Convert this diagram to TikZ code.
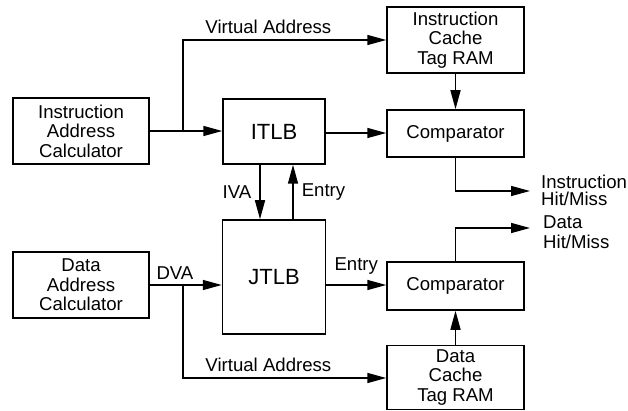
\documentclass[tikz,border=0pt]{standalone}
\usepackage{fontspec}
\setmainfont{Liberation Sans}
\usetikzlibrary{arrows.meta}
\begin{document}
\begin{tikzpicture}[x=1pt,y=-1pt,
  box/.style={draw,line width=1.5pt,align=center,inner sep=0pt,font=\fontsize{18.6}{19.5}\selectfont},
  big/.style={font=\fontsize{22}{23}\selectfont},
  lbl/.style={font=\fontsize{18.6}{19.5}\selectfont,inner sep=0pt},
  arr/.style={line width=1.5pt,-{Triangle[length=19pt,width=10pt]}},
  ln/.style={line width=1.5pt}]
\useasboundingbox (0,0) rectangle (628,411);
% boxes
\node[box,minimum width=136pt,minimum height=66pt] (iac) at (81,131) {Instruction\\Address\\Calculator};
\node[box,big,minimum width=102pt,minimum height=65pt] (itlb) at (274,131.5) {ITLB};
\node[box,minimum width=137pt,minimum height=66pt] (icache) at (455.5,40) {Instruction\\Cache\\Tag RAM};
\node[box,minimum width=137pt,minimum height=47pt] (icomp) at (455.5,133.5) {Comparator};
\node[box,big,minimum width=103pt,minimum height=114pt] (jtlb) at (274,277) {JTLB};
\node[box,minimum width=136pt,minimum height=66pt] (dac) at (81,285) {Data\\Address\\Calculator};
\node[box,minimum width=137pt,minimum height=48pt] (dcomp) at (455.5,286) {Comparator};
\node[box,minimum width=137pt,minimum height=64pt] (dcache) at (455.5,377.5) {Data\\Cache\\Tag RAM};
% coordinates
\coordinate (b1) at (183,131);
\coordinate (b2) at (183,285);
\coordinate (iout) at (530,191);
\coordinate (dout) at (530,228);
% instruction side
\draw[arr] (iac.east |- b1) -- (itlb.west |- b1);
\draw[arr] (b1) |- node[lbl,pos=0.71,above=6pt] {Virtual Address} (icache.west |- 0,40);
\draw[arr] (icache.south) -- (icomp.north);
\draw[arr] (itlb.east |- 0,133) -- (icomp.west |- 0,133);
\draw[arr] (icomp.south) |- (iout);
\node[lbl,anchor=west,align=left,font=\fontsize{18.6}{17}\selectfont] (ihm) at (541,190) {Instruction\\Hit/Miss};
% TLB links
\draw[arr] ([xshift=-14pt]itlb.south) -- node[lbl,left=8pt] {IVA} ([xshift=-14pt]jtlb.north);
\draw[arr] ([xshift=19pt]jtlb.north) -- node[lbl,right=8pt] {Entry} ([xshift=19pt]itlb.south);
% data side
\draw[arr] (dac.east |- b2) -- node[lbl,pos=0.35,above=5pt] {DVA} (jtlb.west |- b2);
\draw[arr] (b2) |- node[lbl,pos=0.71,above=6pt] {Virtual Address} (dcache.west |- 0,378);
\draw[arr] (jtlb.east |- 0,285) -- node[lbl,pos=0.5,above=10pt] {Entry} (dcomp.west |- 0,285);
\draw[arr] (dcache.north) -- (dcomp.south);
\draw[arr] (dcomp.north) |- (dout);
\node[lbl,anchor=west,align=left,font=\fontsize{18.6}{20}\selectfont] (dhm) at (543,232) {Data\\Hit/Miss};
\end{tikzpicture}
\end{document}
